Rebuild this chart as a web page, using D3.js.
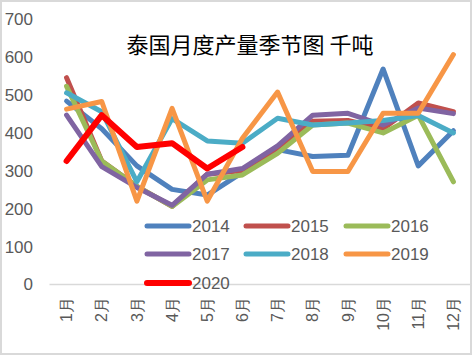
<!DOCTYPE html>
<html><head><meta charset="utf-8">
<script src="https://cdn.jsdelivr.net/npm/d3@7"></script>
<style>body{margin:0;background:#fff}svg{display:block}</style>
</head><body>
<script>
const months = ["1月","2月","3月","4月","5月","6月","7月","8月","9月","10月","11月","12月"];
const yTicks = [0,100,200,300,400,500,600,700];
const title = "泰国月度产量季节图 千吨";
const y2014 = [483,410,312,250,235,295,355,337,340,568,312,405];
const y2015 = [545,325,258,205,290,300,360,430,432,410,478,455];
const y2016 = [522,325,258,205,275,288,345,420,425,399,446,270];
const y2017 = [446,310,255,208,290,305,365,446,451,420,465,450];
const y2018 = [505,455,270,437,378,372,438,420,425,432,445,399];
const y2019 = [462,482,219,464,219,385,507,297,297,451,451,606];
const y2020 = [325,446,362,372,305,362];
const seriesNames = ["2014","2015","2016","2017","2018","2019","2020"];
const colors = ["#4F81BD","#C0504D","#9BBB59","#8064A2","#4BACC6","#F79646","#FF0000"];
const seriesData = [y2014,y2015,y2016,y2017,y2018,y2019,y2020];

const W=474,H=357;
const svg=d3.select("body").append("svg").attr("width",W).attr("height",H);
svg.append("rect").attr("x",1).attr("y",1).attr("width",470).attr("height",353)
  .attr("fill","#fff").attr("stroke","#d9d9d9").attr("stroke-width",2);

const x=d3.scaleBand().domain(months).range([49,471]);
const y=d3.scaleLinear().domain([0,700]).range([284,19]);

// y labels
const yAxis=d3.axisLeft(y).tickValues(yTicks).tickSize(0).tickPadding(0);
const gy=svg.append("g").attr("transform","translate(33,0)").call(yAxis);
gy.select(".domain").remove();
gy.selectAll("text").attr("font-family","Liberation Sans, Arial, sans-serif")
  .attr("font-size",17).attr("fill","#595959").attr("dy","0.35em");

// x axis
const xAxis=d3.axisBottom(x).tickSize(0).tickPadding(0);
const gx=svg.append("g").attr("transform","translate(0,284)").call(xAxis);
gx.select(".domain").attr("stroke","#d9d9d9").attr("stroke-width",1.5);
gx.selectAll("text").attr("font-family","Liberation Sans, Arial, sans-serif")
  .attr("font-size",16).attr("fill","#595959")
  .attr("transform","rotate(-90)").attr("text-anchor","end")
  .attr("x",-13).attr("y",0).attr("dy","0.35em");

// title
svg.append("text").attr("x",250).attr("y",53).attr("text-anchor","middle")
  .attr("font-family","Noto Sans CJK SC, sans-serif").attr("font-size",22)
  .attr("fill","#000").text(title);

const line=d3.line().x((d,i)=>x(months[i])+x.bandwidth()/2).y(d=>y(d));
seriesData.forEach((s,k)=>{
  svg.append("path").datum(s).attr("d",line).attr("fill","none")
    .attr("stroke",colors[k]).attr("stroke-width",k===6?6:5)
    .attr("stroke-linejoin","round").attr("stroke-linecap","round");
});

// legend
const legX=[147,246,346], legY=[226,254,283];
seriesNames.forEach((n,k)=>{
  const lx=legX[k%3], ly=legY[Math.floor(k/3)];
  svg.append("line").attr("x1",lx).attr("x2",lx+42).attr("y1",ly).attr("y2",ly)
    .attr("stroke",colors[k]).attr("stroke-width",k===6?6:5).attr("stroke-linecap","round");
  svg.append("text").attr("x",lx+45).attr("y",ly).attr("dy","0.35em")
    .attr("font-family","Liberation Sans, Arial, sans-serif").attr("font-size",17)
    .attr("fill","#595959").text(n);
});
</script>
</body></html>
